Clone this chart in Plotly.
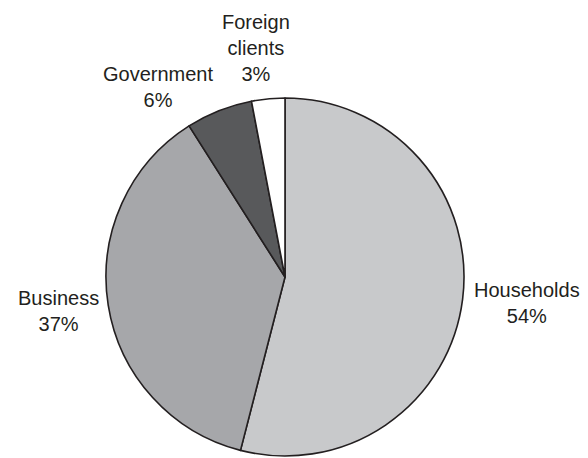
import plotly.graph_objects as go

# Share of sales by customer group
categories = ["Households", "Business", "Government", "Foreign<br>clients"]
shares = [54, 37, 6, 3]
colors = ["#c8c9cb", "#a6a7aa", "#58595b", "#ffffff"]

W, H = 588, 458
cx, cy, r = 285, 277, 179  # pixel centre and radius of the pie

# Label block centres (pixels from top-left), one per category
label_pos = [(527, 303), (58, 311), (158, 87), (256, 48)]

fig = go.Figure(
    go.Pie(
        labels=categories,
        values=shares,
        sort=False,
        direction="clockwise",
        rotation=0,
        marker=dict(colors=colors, line=dict(color="#231f20", width=1.6)),
        textinfo="none",
        hoverinfo="label+percent",
        domain=dict(
            x=[(cx - r) / W, (cx + r) / W],
            y=[(H - cy - r) / H, (H - cy + r) / H],
        ),
    )
)

for name, val, (px, py) in zip(categories, shares, label_pos):
    fig.add_annotation(
        text=f"{name}<br>{val}%",
        x=px / W,
        y=1 - py / H,
        xref="paper",
        yref="paper",
        xanchor="center",
        yanchor="middle",
        align="center",
        showarrow=False,
        font=dict(family="Liberation Sans, Arial, sans-serif", size=20, color="#231f20"),
    )

fig.update_layout(
    width=W,
    height=H,
    margin=dict(l=0, r=0, t=0, b=0),
    showlegend=False,
    paper_bgcolor="white",
    plot_bgcolor="white",
)

fig.write_html("out.html")
